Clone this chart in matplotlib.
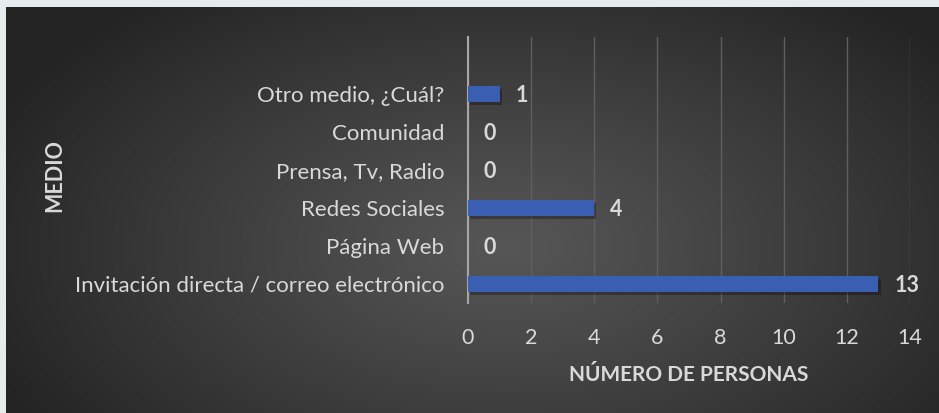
import numpy as np
import matplotlib
matplotlib.use("Agg")
import matplotlib.pyplot as plt
import matplotlib.patheffects as pe

# datos
medios = ["Invitación directa / correo electrónico", "Página Web", "Redes Sociales",
          "Prensa, Tv, Radio", "Comunidad", "Otro medio, ¿Cuál?"]
personas = [13, 0, 4, 0, 0, 1]
ticks_x = [0, 2, 4, 6, 8, 10, 12, 14]

texto = "#d9d9d9"
plt.rcParams['font.family'] = ['Lato', 'DejaVu Sans']
fs = 15.5

W, H = 939, 413
fig = plt.figure(figsize=(W / 100, H / 100), dpi=100)
fig.patch.set_facecolor("#e6ecee")

# fondo degradado radial del grafico
bg = fig.add_axes([6 / W, 0, (W - 6) / W, (H - 7) / H])
bg.set_axis_off()
ny, nx = 406, 933
yy, xx = np.mgrid[0:ny, 0:nx]
cx, cy = 500, 240
d = np.sqrt(((xx - cx) / 560) ** 2 + ((yy - cy) / 320) ** 2)
v = 86 - 50 * np.clip(d, 0, 1) ** 1.1
img = np.dstack([v, v, v]) / 255
bg.imshow(img, aspect="auto", extent=[0, 1, 0, 1], origin="upper")

ax = fig.add_axes([468 / W, 1 - 303 / H, 442 / W, 266 / H])
ax.patch.set_alpha(0)

pos = np.arange(len(medios))
barras = ax.barh(pos, personas, height=0.42, color="#3a5fb2", zorder=3)
for b in barras:
    b.set_path_effects([pe.SimplePatchShadow(offset=(1.5, -2.5), shadow_rgbFace="black", alpha=0.3),
                        pe.Normal()])

for p, val in zip(pos, personas):
    ax.text(val + 0.5, p - 0.05, str(val), va="center", ha="left", color=texto,
            fontsize=fs, fontweight="bold", zorder=4)

ax.set_xlim(0, 14)
ax.set_ylim(-0.5, len(medios) + 0.5)
ax.set_xticks(ticks_x)
ax.set_yticks(pos)
ax.set_yticklabels(medios, fontsize=16)
ax.tick_params(axis="both", length=0, colors=texto)
ax.tick_params(axis="x", labelsize=fs, pad=18)
ax.tick_params(axis="y", pad=17)
ax.grid(axis="x", color="#5f5f5f", linewidth=1, zorder=0)
for s in ["top", "right", "bottom"]:
    ax.spines[s].set_visible(False)
ax.spines["left"].set_color("#a6a6a6")
ax.spines["left"].set_linewidth(1.5)

ax.set_xlabel("NÚMERO DE PERSONAS", color=texto, fontsize=15, fontweight="bold", labelpad=12)
fig.text(55 / W, 1 - 175 / H, "MEDIO", rotation=90, color=texto, fontsize=fs,
         fontweight="bold", ha="center", va="center")

fig.savefig("out.png", dpi=100, facecolor=fig.get_facecolor())
